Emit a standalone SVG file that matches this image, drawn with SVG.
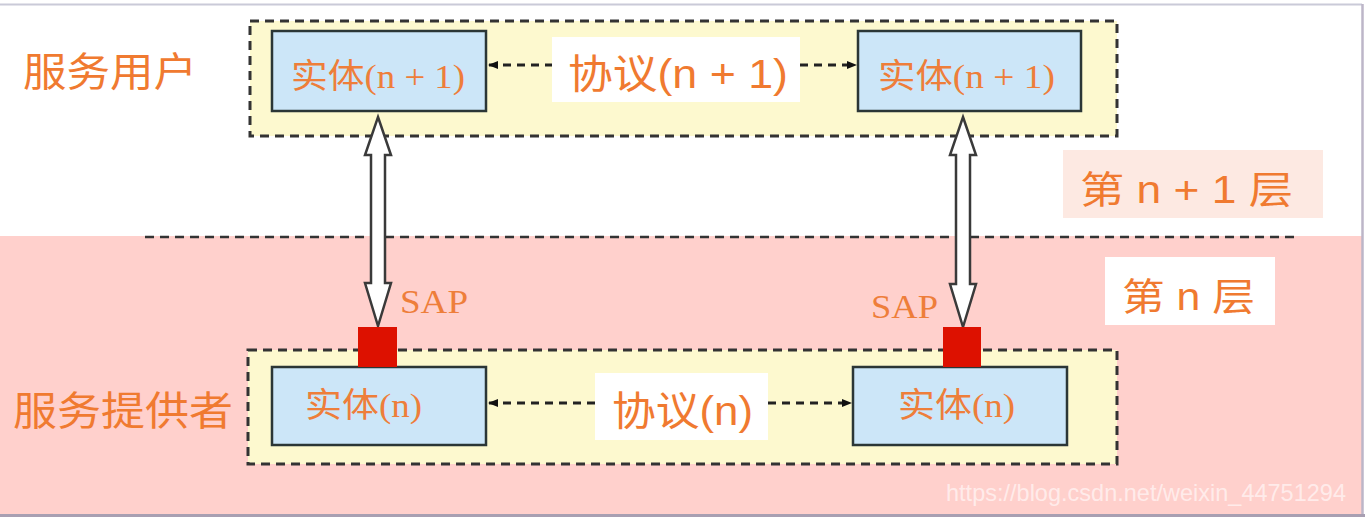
<svg xmlns="http://www.w3.org/2000/svg" width="1365" height="517" viewBox="0 0 1365 517">
<style>
.cjk{font-family:"Liberation Sans","Noto Sans CJK SC",sans-serif;fill:#F07A30}
.ser{font-family:"Liberation Serif","Noto Sans CJK SC",serif;fill:#EE7E3A}
.grp{fill:#FDF9CF;stroke:#333;stroke-width:3;stroke-dasharray:9 6}
.ent{fill:#CCE6F8;stroke:#2B3636;stroke-width:2.5}
.dash{stroke:#222;stroke-width:3;stroke-dasharray:8 6;fill:none}
.sap{fill:#DD1100}
.hollow{fill:#fff;stroke:#3a3a3a;stroke-width:2.5;stroke-linejoin:miter}
</style>
<defs>
<marker id="ah2" viewBox="0 0 10 10" refX="9" refY="5" markerWidth="13" markerHeight="10" orient="auto-start-reverse" markerUnits="userSpaceOnUse">
<path d="M0,1 L10,5 L0,9 Z" fill="#111"/>
</marker>
</defs>
<!-- background -->
<rect x="0" y="0" width="1365" height="517" fill="#fff"/>
<rect x="0" y="236" width="1362" height="278" fill="#FFD0CC"/>
<line x1="0" y1="4.5" x2="1362" y2="4.5" stroke="#CACAD8" stroke-width="2"/>
<line x1="1362.5" y1="4" x2="1362.5" y2="515" stroke="#BDB6C8" stroke-width="2.5"/>
<line x1="0" y1="515.5" x2="1365" y2="515.5" stroke="#A89FB2" stroke-width="3"/>
<line x1="145" y1="237" x2="1295" y2="237" stroke="#333" stroke-width="2.5" stroke-dasharray="9 6"/>

<g id="label-user"><text class="cjk" x="23" y="86" font-size="40" textLength="174" lengthAdjust="spacingAndGlyphs">服务用户</text></g>
<g id="label-provider"><text class="cjk" x="13" y="425" font-size="40" textLength="220" lengthAdjust="spacingAndGlyphs">服务提供者</text></g>

<g id="group-upper"><rect class="grp" x="250" y="21" width="867" height="115"/></g>
<g id="group-lower"><rect class="grp" x="248" y="350" width="869" height="114"/></g>

<g id="layer-n1">
<rect x="1063" y="150" width="260" height="68" fill="#FDE9E2"/>
<text class="cjk" x="1080" y="203" font-size="38" textLength="213" lengthAdjust="spacingAndGlyphs">第 n + 1 层</text>
</g>
<g id="layer-n">
<rect x="1105" y="257" width="170" height="68" fill="#fff"/>
<text class="cjk" x="1122" y="310" font-size="38" textLength="133" lengthAdjust="spacingAndGlyphs">第 n 层</text>
</g>

<g id="connectors">
<line class="dash" x1="489" y1="65" x2="552" y2="65" marker-start="url(#ah2)"/>
<line class="dash" x1="800" y1="65" x2="856" y2="65" marker-end="url(#ah2)"/>
<line class="dash" x1="489" y1="403" x2="595" y2="403" marker-start="url(#ah2)"/>
<line class="dash" x1="768" y1="403" x2="851" y2="403" marker-end="url(#ah2)"/>
<polygon class="hollow" points="378,117 391,155 385,155 385,283 391,283 378,326 365,283 371,283 371,155 365,155"/>
<polygon class="hollow" points="963,117 976,155 970,155 970,284 976,284 963,327 950,284 956,284 956,155 950,155"/>
</g>

<g id="proto-upper">
<rect x="552" y="37" width="248" height="65" fill="#fff"/>
<text class="cjk" x="568" y="88" font-size="40" textLength="220" lengthAdjust="spacingAndGlyphs">协议(n + 1)</text>
</g>
<g id="proto-lower">
<rect x="595" y="373" width="173" height="67" fill="#fff"/>
<text class="cjk" x="612" y="425" font-size="40" textLength="141" lengthAdjust="spacingAndGlyphs">协议(n)</text>
</g>

<g id="entity-upper-left">
<rect class="ent" x="272" y="31" width="214" height="80"/>
<text class="ser" x="291" y="88" font-size="34" textLength="174" lengthAdjust="spacingAndGlyphs">实体(n + 1)</text>
</g>
<g id="entity-upper-right">
<rect class="ent" x="858" y="31" width="223" height="80"/>
<text class="ser" x="878" y="88" font-size="34" textLength="177" lengthAdjust="spacingAndGlyphs">实体(n + 1)</text>
</g>
<g id="entity-lower-left">
<rect class="ent" x="272" y="367" width="214" height="78"/>
<text class="ser" x="305" y="417" font-size="34" textLength="117" lengthAdjust="spacingAndGlyphs">实体(n)</text>
</g>
<g id="entity-lower-right">
<rect class="ent" x="853" y="367" width="214" height="78"/>
<text class="ser" x="898" y="417" font-size="34" textLength="117" lengthAdjust="spacingAndGlyphs">实体(n)</text>
</g>

<g id="sap-left">
<rect class="sap" x="358" y="327" width="39" height="40"/>
<text class="ser" x="400" y="313" font-size="34" textLength="68" lengthAdjust="spacingAndGlyphs">SAP</text>
</g>
<g id="sap-right">
<rect class="sap" x="943" y="327" width="38" height="40"/>
<text class="ser" x="871" y="318" font-size="34" textLength="67" lengthAdjust="spacingAndGlyphs">SAP</text>
</g>

<g id="watermark">
<text x="946" y="501" font-family="'Liberation Sans',sans-serif" font-size="24" fill="#fff" fill-opacity="0.6" textLength="400" lengthAdjust="spacingAndGlyphs">https://blog.csdn.net/weixin_44751294</text>
</g>
</svg>
